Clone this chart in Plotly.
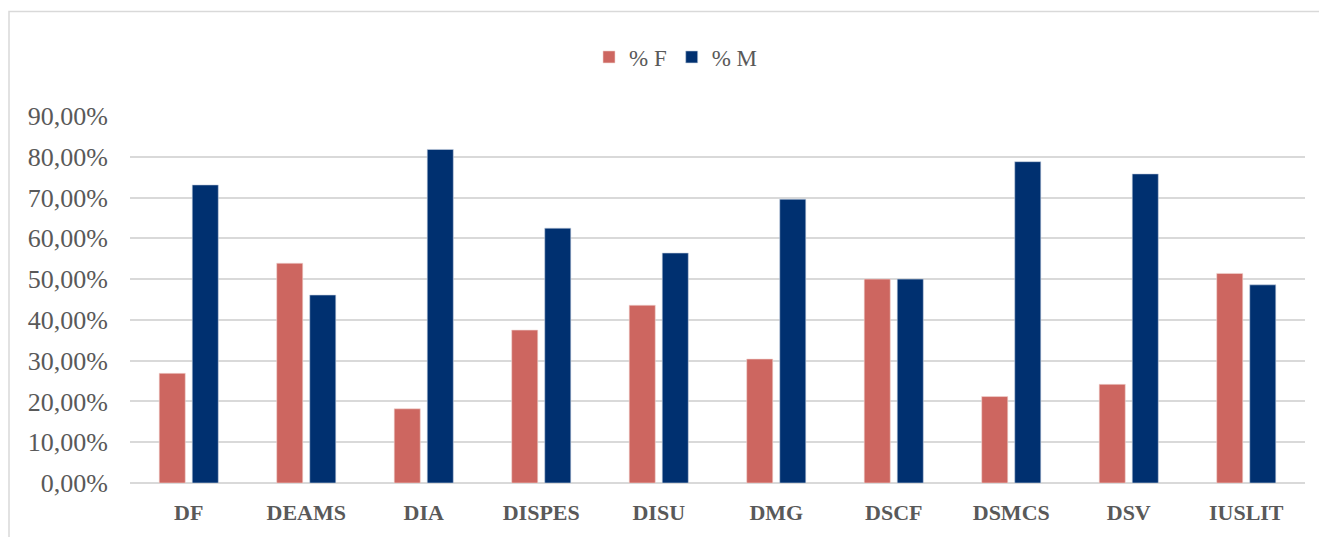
import plotly.graph_objects as go

categories = ["DF", "DEAMS", "DIA", "DISPES", "DISU", "DMG", "DSCF", "DSMCS", "DSV", "IUSLIT"]
pct_f = [0.269, 0.539, 0.182, 0.375, 0.436, 0.304, 0.500, 0.212, 0.242, 0.514]
pct_m = [0.731, 0.461, 0.818, 0.625, 0.564, 0.696, 0.500, 0.788, 0.758, 0.486]
series_names = ["% F", "% M"]

FONT = "Liberation Serif"
GRAY = "#595959"
GRID = "#d9d9d9"

fig = go.Figure()
fig.add_trace(go.Bar(x=categories, y=pct_f, name=series_names[0],
                     marker=dict(color="#CD6660", line=dict(color="#f2d6d4", width=0.6))))
fig.add_trace(go.Bar(x=categories, y=pct_m, name=series_names[1],
                     marker=dict(color="#003070", line=dict(color="#c9d3e3", width=0.6))))

# the page body adds an 8px offset; compensate so screen positions match
OFF = 8
W, H = 1327, 537
L, R, T, B = 130 - OFF, 22 + OFF, 116 - OFF, 54 + OFF
pw, ph = W - L - R, H - T - B

def px_x(p):
    return (p - OFF - L) / pw

def px_y(p):
    return (H - B - (p - OFF)) / ph

fig.update_layout(
    width=W, height=H,
    margin=dict(l=L, r=R, t=T, b=B, pad=0),
    paper_bgcolor="white", plot_bgcolor="white",
    separators=", ",
    barmode="group", bargap=0.438, bargroupgap=0.21,
    font=dict(family=FONT, color=GRAY, size=22),
    legend=dict(orientation="h", x=px_x(676), y=px_y(57), xanchor="center", yanchor="middle",
                font=dict(family=FONT, size=23, color=GRAY), traceorder="normal",
                itemwidth=30, bgcolor="rgba(0,0,0,0)"),
    showlegend=True,
)
fig.update_yaxes(range=[0, 0.9], dtick=0.1, tick0=0, tickformat=".2%",
                 showgrid=True, gridcolor=GRID, gridwidth=1.5,
                 zeroline=True, zerolinecolor=GRID, zerolinewidth=1.5,
                 showline=False, ticks="", ticklabelstandoff=21,
                 tickfont=dict(family=FONT, size=26, color=GRAY), fixedrange=True)
fig.update_xaxes(showgrid=False, showline=False, ticks="", ticklabelstandoff=14,
                 tickfont=dict(family=FONT, size=22, color=GRAY, weight="bold"))

fig.add_shape(type="rect", xref="paper", yref="paper",
              x0=px_x(9), x1=px_x(1345), y0=px_y(560), y1=px_y(11.5),
              line=dict(color=GRID, width=1.5), fillcolor="rgba(0,0,0,0)", layer="below")

fig.write_html("out.html")
